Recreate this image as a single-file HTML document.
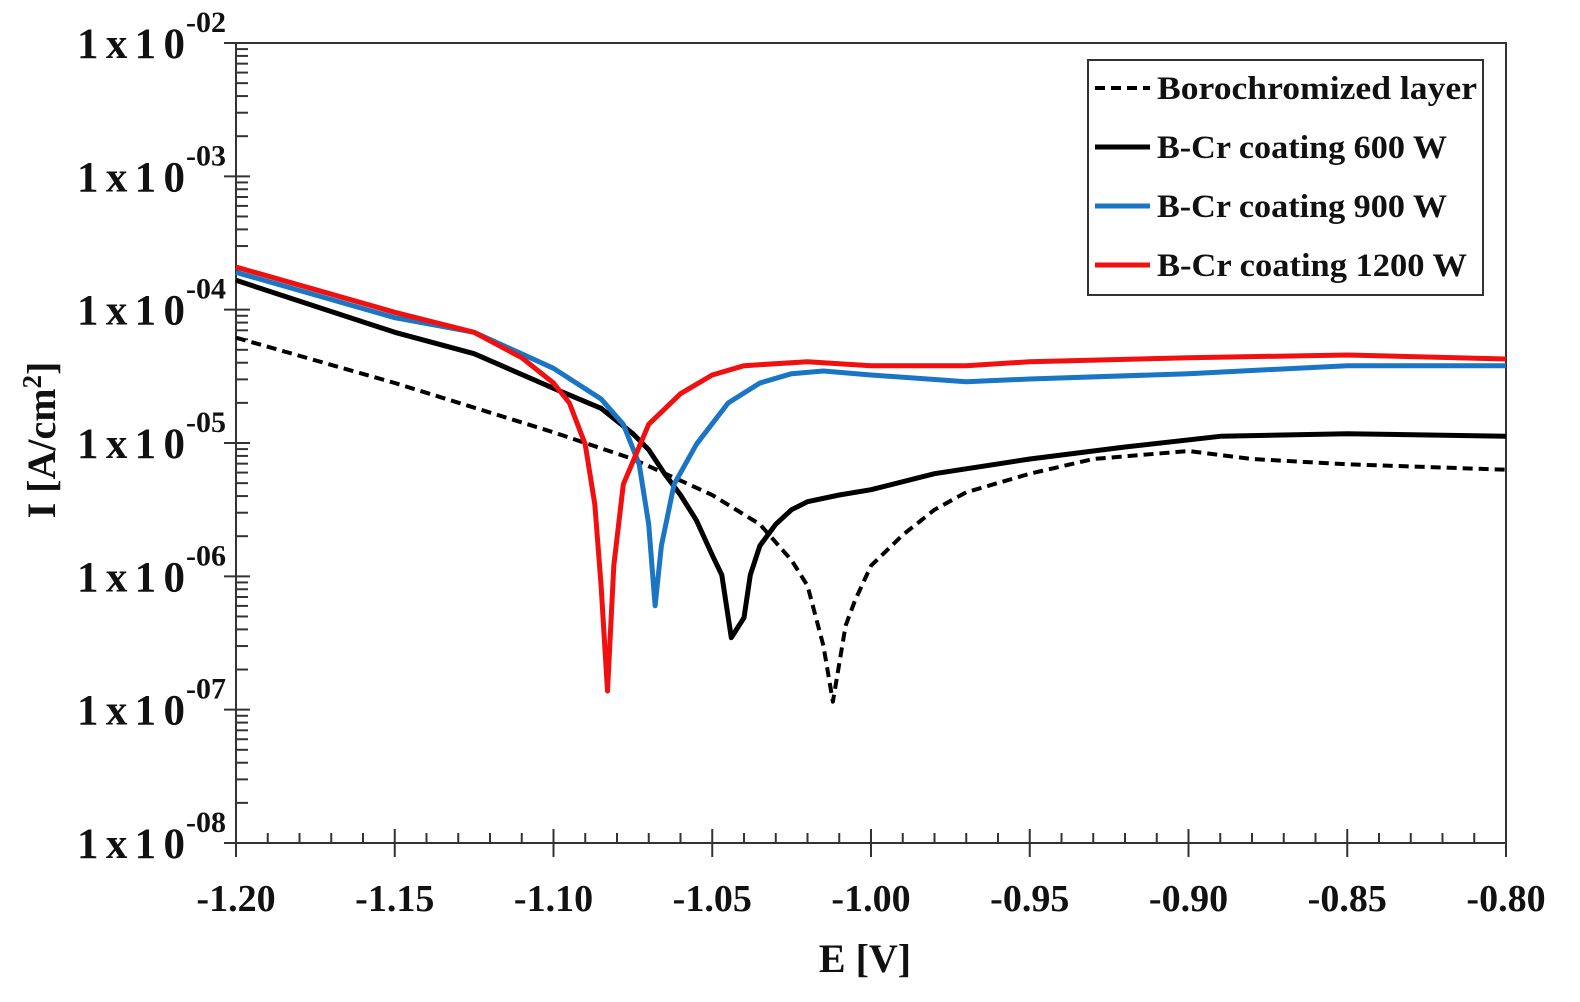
<!DOCTYPE html>
<html><head><meta charset="utf-8"><style>
html,body{margin:0;padding:0;background:#fff;}
svg{display:block;}
text{font-family:"Liberation Serif",serif;font-weight:bold;fill:#111;}
</style></head><body>
<svg id="s" width="1580" height="1002" viewBox="0 0 1580 1002" xmlns="http://www.w3.org/2000/svg">
<g id="ax" stroke="#333" stroke-width="2" fill="none"></g>
<g id="curves" fill="none" stroke-linejoin="round"></g>
<g id="labels"></g>
<rect x="1088" y="60" width="395" height="235" fill="#fff" stroke="#333" stroke-width="2"/>
<line x1="1095" y1="88" x2="1150" y2="88" stroke="#000" stroke-width="4" stroke-dasharray="10,6"/>
<line x1="1095" y1="147" x2="1150" y2="147" stroke="#000" stroke-width="5"/>
<line x1="1095" y1="206" x2="1150" y2="206" stroke="#1a75c4" stroke-width="5"/>
<line x1="1095" y1="265" x2="1150" y2="265" stroke="#f01010" stroke-width="5"/>
<text x="1157" y="99" font-size="33" textLength="320" lengthAdjust="spacingAndGlyphs">Borochromized layer</text>
<text x="1157" y="158" font-size="33" textLength="290" lengthAdjust="spacingAndGlyphs">B-Cr coating 600 W</text>
<text x="1157" y="217" font-size="33" textLength="290" lengthAdjust="spacingAndGlyphs">B-Cr coating 900 W</text>
<text x="1157" y="276" font-size="33" textLength="310" lengthAdjust="spacingAndGlyphs">B-Cr coating 1200 W</text>
<text x="865" y="972" font-size="40" text-anchor="middle">E [V]</text>
<text transform="translate(55,440) rotate(-90)" font-size="40" text-anchor="middle">I [A/cm<tspan font-size="27" dy="-14">2</tspan><tspan dy="14">]</tspan></text>
</svg>
<script>
var L=236,R=1506,T=43,B=843,D=(B-T)/6;
function X(e){return L+(e+1.2)*(R-L)/0.4;}
function Y(l){return T+(-2-l)*D;}
var ns="http://www.w3.org/2000/svg";
function el(p,t,a,txt){var e=document.createElementNS(ns,t);for(var k in a)e.setAttribute(k,a[k]);if(txt!=null)e.textContent=txt;p.appendChild(e);return e;}
var ax=document.getElementById('ax'),lb=document.getElementById('labels');
el(ax,'path',{d:'M'+(L-12)+' '+T+'H'+R+'V'+B+'H'+L+'V'+T});
for(var d=0;d<6;d++){for(var m=2;m<=9;m++){var y=Y(-2-d-1+Math.log10(m));el(ax,'line',{x1:L,x2:L+12,y1:y,y2:y});}}
for(var d=0;d<=6;d++){var y=T+d*D;el(ax,'line',{x1:L-12,x2:L+14,y1:y,y2:y});
el(lb,'text',{x:77,y:y+15,'font-size':43,textLength:108,lengthAdjust:'spacing'},'1x10');
el(lb,'text',{x:186,y:y-11,'font-size':30},'-0'+(2+d));}
for(var i=0;i<=40;i++){var x=X(-1.2+i*0.01);if(i%5==0){el(ax,'line',{x1:x,x2:x,y1:B-14,y2:B+14});
el(lb,'text',{x:x,y:B+68,'font-size':38,'text-anchor':'middle'},(-1.2+i*0.01).toFixed(2));}
else el(ax,'line',{x1:x,x2:x,y1:B-10,y2:B});}
var data={
dash:[[-1.2,-4.21],[-1.15,-4.55],[-1.1,-4.92],[-1.075,-5.12],[-1.05,-5.39],[-1.035,-5.61],[-1.025,-5.88],[-1.02,-6.07],[-1.015,-6.52],[-1.012,-6.94],[-1.008,-6.37],[-1.005,-6.18],[-1.0,-5.92],[-0.99,-5.69],[-0.98,-5.5],[-0.97,-5.37],[-0.95,-5.23],[-0.93,-5.12],[-0.9,-5.06],[-0.88,-5.12],[-0.85,-5.16],[-0.8,-5.2]],
black:[[-1.2,-3.78],[-1.15,-4.17],[-1.125,-4.33],[-1.1,-4.59],[-1.085,-4.74],[-1.075,-4.93],[-1.07,-5.05],[-1.065,-5.23],[-1.06,-5.39],[-1.055,-5.58],[-1.05,-5.84],[-1.047,-5.99],[-1.044,-6.46],[-1.04,-6.31],[-1.038,-5.99],[-1.035,-5.77],[-1.03,-5.61],[-1.025,-5.5],[-1.02,-5.44],[-1.01,-5.39],[-1.0,-5.35],[-0.98,-5.23],[-0.95,-5.12],[-0.92,-5.03],[-0.89,-4.95],[-0.85,-4.93],[-0.8,-4.95]],
blue:[[-1.2,-3.72],[-1.15,-4.06],[-1.125,-4.17],[-1.1,-4.44],[-1.085,-4.67],[-1.078,-4.86],[-1.073,-5.16],[-1.07,-5.61],[-1.068,-6.22],[-1.066,-5.77],[-1.062,-5.31],[-1.055,-5.01],[-1.045,-4.7],[-1.035,-4.55],[-1.025,-4.48],[-1.015,-4.46],[-1.0,-4.49],[-0.97,-4.54],[-0.95,-4.52],[-0.9,-4.48],[-0.85,-4.42],[-0.8,-4.42]],
red:[[-1.2,-3.68],[-1.15,-4.02],[-1.125,-4.17],[-1.11,-4.36],[-1.1,-4.55],[-1.095,-4.7],[-1.09,-5.01],[-1.087,-5.46],[-1.085,-6.07],[-1.083,-6.86],[-1.081,-5.92],[-1.078,-5.31],[-1.07,-4.86],[-1.06,-4.63],[-1.05,-4.49],[-1.04,-4.42],[-1.02,-4.39],[-1.0,-4.42],[-0.97,-4.42],[-0.95,-4.39],[-0.9,-4.36],[-0.85,-4.34],[-0.8,-4.37]]};
var st={dash:['#000',4,'10,6'],black:['#000',5,''],blue:['#1a75c4',5,''],red:['#f01010',5,'']};
var cg=document.getElementById('curves');
['dash','black','blue','red'].forEach(function(k){var d='';data[k].forEach(function(p,i){d+=(i?'L':'M')+X(p[0]).toFixed(1)+' '+Y(p[1]).toFixed(1);});
var a={d:d,stroke:st[k][0],'stroke-width':st[k][1]};if(st[k][2])a['stroke-dasharray']=st[k][2];el(cg,'path',a);});
</script>
</body></html>
